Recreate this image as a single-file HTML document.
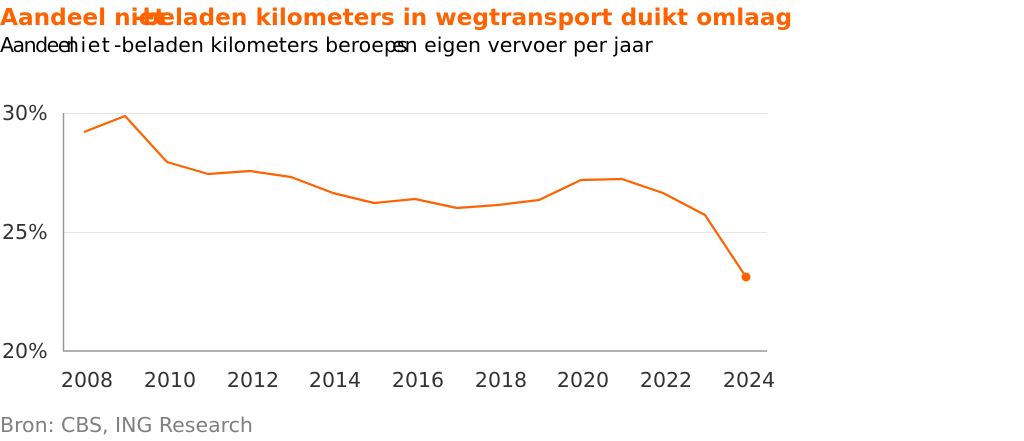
<!DOCTYPE html>
<html><head><style>
body{margin:0;width:1024px;height:441px;background:#fff;position:relative;font-family:"DejaVu Sans","Liberation Sans",sans-serif;overflow:hidden}
.t{position:absolute;white-space:nowrap;line-height:1}
.ti{font-weight:bold;font-size:23.2px;color:#ff6200;top:6px}
.su{font-size:20.5px;color:#000;top:35px}
</style></head><body>
<div class="t ti" style="left:0">Aandeel niet</div>
<div class="t ti" style="left:133px">-beladen kilometers in wegtransport duikt omlaag</div>
<div class="t su" style="left:0;letter-spacing:-1.5px">Aandeel</div>
<div class="t su" style="left:66px;letter-spacing:1.5px">niet</div>
<div class="t su" style="left:114px">-beladen kilometers beroeps</div>
<div class="t su" style="left:392px">en eigen vervoer per jaar</div>
<svg width="1024" height="441" style="position:absolute;left:0;top:0">
<g stroke="#e6e6e6" stroke-width="1"><line x1="63" y1="113.5" x2="767" y2="113.5"/><line x1="63" y1="232.5" x2="767" y2="232.5"/></g>
<line x1="63.5" y1="113" x2="63.5" y2="351" stroke="#999" stroke-width="1.5"/>
<line x1="63" y1="351" x2="767" y2="351" stroke="#999" stroke-width="1.5"/>
<g font-family="DejaVu Sans,Liberation Sans,sans-serif" font-size="20.5" fill="#333">
<text x="2" y="120">30%</text><text x="2" y="239">25%</text><text x="2" y="358">20%</text>
<g text-anchor="middle">
<text x="87" y="387">2008</text><text x="170" y="387">2010</text><text x="253" y="387">2012</text><text x="335" y="387">2014</text><text x="418" y="387">2016</text><text x="501" y="387">2018</text><text x="583" y="387">2020</text><text x="666" y="387">2022</text><text x="749" y="387">2024</text>
</g></g>
<polyline fill="none" stroke="#ff6200" stroke-width="2.2" stroke-linejoin="round" points="84,132 125,116 167,162 208,174 250,171 291,177 333,193 374,203 415,199 457,208 498,205 539,200 581,180 622,179 663,193 705,215 746,277"/>
<circle cx="746" cy="277" r="4.5" fill="#ff6200"/>
<text x="0" y="432" font-family="DejaVu Sans,Liberation Sans,sans-serif" font-size="20.5" fill="#808080">Bron: CBS, ING Research</text>
</svg>
</body></html>
